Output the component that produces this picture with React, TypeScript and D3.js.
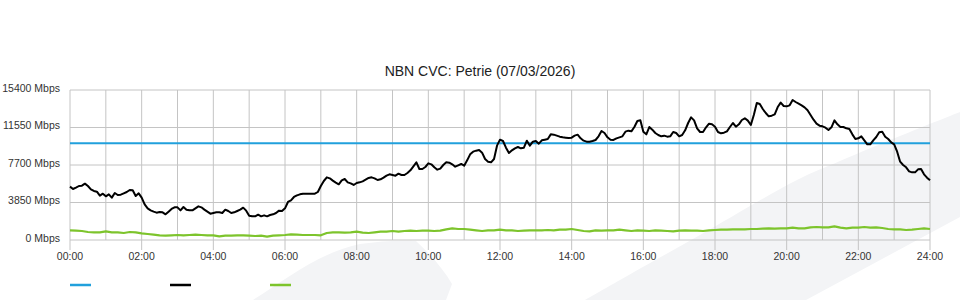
import React from "react";
import * as d3 from "d3";

// ---- data ----
const title = "NBN CVC: Petrie (07/03/2026)";
const yTicks = [0, 3850, 7700, 11550, 15400];
const yTickLabels = ["0 Mbps", "3850 Mbps", "7700 Mbps", "11550 Mbps", "15400 Mbps"];
const xLabelHours = [0, 2, 4, 6, 8, 10, 12, 14, 16, 18, 20, 22, 24];
const xLabels = ["00:00", "02:00", "04:00", "06:00", "08:00", "10:00", "12:00", "14:00", "16:00", "18:00", "20:00", "22:00", "24:00"];

// capacity (blue), constant
const capacityMbps = 9925;

// traffic (black), 5-minute samples 00:00 .. 24:00
const trafficMbps = [
  5476, 5236, 5373, 5544, 5578, 5784, 5544, 5202, 5031, 4963, 4552, 4757, 4484, 4689, 4347, 4826,
  4620, 4655, 4792, 4928, 5134, 5100, 4518, 4792, 4347, 3662, 3252, 3046, 2909, 2806, 2875, 2841,
  2636, 2909, 3183, 3354, 3354, 3046, 3389, 3115, 3046, 3046, 3252, 3457, 3354, 3115, 2909, 2704,
  2772, 2841, 2841, 2772, 3115, 2978, 2772, 2841, 2978, 3115, 3320, 3012, 2499, 2430, 2430, 2601,
  2430, 2533, 2430, 2567, 2636, 2772, 3012, 2978, 3252, 3902, 4073, 4415, 4586, 4689, 4757, 4757,
  4757, 4757, 4757, 4928, 5544, 6058, 6434, 6331, 6092, 5887, 5715, 6126, 6263, 5921, 5818, 5647,
  5850, 5920, 6023, 6195, 6366, 6434, 6331, 6160, 6229, 6400, 6605, 6742, 6674, 6605, 6810, 6674,
  6674, 6879, 7153, 7563, 7974, 7289, 7289, 7495, 7870, 7769, 7461, 7221, 7324, 7700, 7974, 7940,
  7769, 7529, 7666, 7803, 7632, 8179, 8795, 9069, 9172, 9240, 8966, 8316, 8042, 7974, 8316, 9685,
  10301, 10164, 9480, 8932, 9206, 9411, 9548, 9411, 9480, 10198, 9685, 10096, 10164, 9890, 10233, 10301,
  10369, 10848, 10814, 10712, 10609, 10541, 10506, 10472, 10506, 10712, 10814, 10438, 10198, 10096, 10096, 10164,
  10267, 10643, 11191, 10985, 10541, 10301, 10267, 10438, 10541, 10643, 11122, 11225, 11157, 11601, 12217, 12286,
  11122, 10850, 11600, 11327, 10985, 10780, 10643, 10712, 10609, 10643, 11088, 10985, 10643, 10780, 11259, 12012,
  12594, 12286, 11464, 11088, 11088, 11567, 11944, 11875, 11635, 11088, 10951, 11019, 11157, 11601, 12012, 11635,
  11875, 12320, 12491, 12252, 11807, 12833, 14065, 13962, 13449, 13039, 12696, 12765, 12902, 13654, 14099, 13757,
  13723, 13826, 14373, 14168, 13997, 13826, 13620, 13313, 12833, 12354, 11944, 11738, 11670, 11533, 11293, 11567,
  12286, 11875, 11601, 11601, 11464, 11396, 10848, 10369, 10438, 10643, 10233, 9822, 9822, 10233, 10575, 11054,
  11122, 10609, 10369, 10027, 9822, 9069, 8042, 7700, 7461, 7050, 6947, 6947, 7255, 7289, 6742, 6400,
  6126,
];

// green series, 10-minute samples 00:00 .. 24:00
const greenMbps = [
  993, 959, 925, 822, 788, 788, 890, 788, 788, 720, 822, 788, 685, 617, 548, 480,
  445, 480, 514, 480, 514, 548, 514, 480, 480, 377, 445, 445, 480, 480, 445, 411,
  445, 343, 445, 480, 514, 582, 548, 514, 514, 514, 480, 720, 788, 788, 754, 788,
  857, 754, 720, 788, 857, 857, 925, 857, 925, 959, 925, 959, 959, 925, 959, 1096,
  1199, 1130, 1130, 1062, 993, 925, 993, 993, 1062, 993, 993, 925, 959, 993, 993, 993,
  1028, 993, 1062, 1062, 1130, 1028, 925, 890, 993, 959, 993, 993, 1062, 993, 925, 993,
  959, 925, 993, 959, 925, 890, 959, 993, 959, 959, 925, 993, 1028, 1062, 1062, 1096,
  1096, 1096, 1130, 1130, 1164, 1199, 1164, 1199, 1199, 1267, 1199, 1199, 1301, 1335, 1301, 1301,
  1404, 1267, 1199, 1267, 1267, 1335, 1267, 1301, 1233, 1130, 1096, 1096, 1028, 1062, 1130, 1199,
  1130,
];

const legendColors = ["#21a0dc", "#000000", "#7dc42c"];

// ---- layout ----
const W = 960;
const H = 300;
const plotLeft = 70;
const plotRight = 930;
const plotTop = 90;
const plotBottom = 240;
const FONT = "'Liberation Sans', Arial, Helvetica, sans-serif";

export default function App() {
  const x = d3.scaleLinear().domain([0, 24]).range([plotLeft, plotRight]);
  const y = d3.scaleLinear().domain([0, 15400]).range([plotBottom, plotTop]);

  const trafficLine = d3
    .line<number>()
    .x((_, i) => x((i * 5) / 60))
    .y((d) => y(d));
  const greenLine = d3
    .line<number>()
    .x((_, i) => x((i * 10) / 60))
    .y((d) => y(d));

  const hours = d3.range(0, 25);

  // background watermark shapes
  const bandUpper: [number, number][] = [
    [585, 300],
    [620, 280],
    [700, 235],
    [797, 180],
    [840, 161],
    [900, 136],
    [960, 112],
  ];
  const bandPath =
    (d3.line().curve(d3.curveCatmullRom)(bandUpper) as string) +
    " L960,217 L806,300 Z";
  const leafPath =
    "M253,300 C285,280 320,252 360,244 C380,241 400,240 416,241 C432,256 444,270 452,284 L446,300 Z";

  return (
    <svg
      width={W}
      height={H}
      style={{ position: "absolute", left: 0, top: 0, background: "#ffffff" }}
      fontFamily={FONT}
    >
      <path d={bandPath} fill="#f3f4f6" />
      <path d={leafPath} fill="#f3f4f6" />

      {/* grid */}
      {hours.map((h) => (
        <line
          key={"v" + h}
          x1={x(h)}
          x2={x(h)}
          y1={plotTop}
          y2={h % 2 === 0 ? plotBottom + 10 : plotBottom}
          stroke="#c4c4c4"
          strokeWidth={1}
        />
      ))}
      {yTicks.map((t) => (
        <line
          key={"h" + t}
          x1={plotLeft}
          x2={plotRight}
          y1={y(t)}
          y2={y(t)}
          stroke="#c4c4c4"
          strokeWidth={1}
        />
      ))}

      {/* y labels */}
      {yTicks.map((t, i) => (
        <text
          key={"yl" + t}
          x={60}
          y={y(t) + 1.5}
          textAnchor="end"
          fontSize={10.5}
          fill="#333"
        >
          {yTickLabels[i]}
        </text>
      ))}

      {/* x labels */}
      {xLabelHours.map((h, i) => (
        <text
          key={"xl" + h}
          x={x(h)}
          y={260}
          textAnchor="middle"
          fontSize={10.5}
          fill="#333"
        >
          {xLabels[i]}
        </text>
      ))}

      {/* series */}
      <line
        x1={x(0)}
        x2={x(24)}
        y1={y(capacityMbps)}
        y2={y(capacityMbps)}
        stroke={legendColors[0]}
        strokeWidth={2}
      />
      <path
        d={greenLine(greenMbps) as string}
        fill="none"
        stroke={legendColors[2]}
        strokeWidth={2.2}
        strokeLinejoin="round"
      />
      <path
        d={trafficLine(trafficMbps) as string}
        fill="none"
        stroke={legendColors[1]}
        strokeWidth={2}
        strokeLinejoin="round"
      />

      {/* title */}
      <text x={480} y={76} textAnchor="middle" fontSize={14} fill="#222">
        {title}
      </text>

      {/* legend */}
      {legendColors.map((c, i) => (
        <line
          key={"lg" + i}
          x1={70 + i * 100}
          x2={91 + i * 100}
          y1={285}
          y2={285}
          stroke={c}
          strokeWidth={2.5}
        />
      ))}
    </svg>
  );
}
